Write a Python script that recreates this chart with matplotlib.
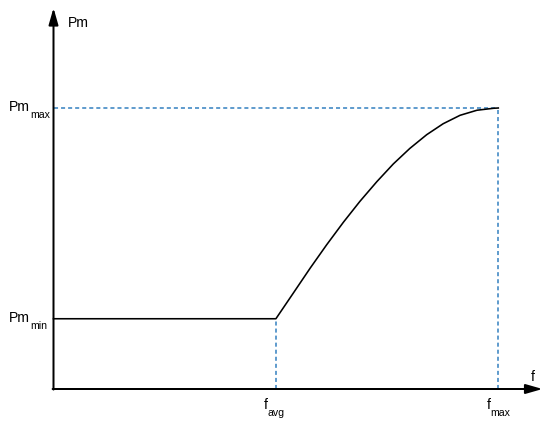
import matplotlib
matplotlib.use("Agg")
import matplotlib.pyplot as plt

plt.rcParams["font.family"] = ["Liberation Sans", "DejaVu Sans"]

# wartości charakterystyczne (znormalizowane)
f_avg = 0.5
f_max = 1.0
pm_min = 0.25
pm_max = 1.0

# krzywa Pm(f)
f_vals = [0.0, 0.5, 0.539, 0.577, 0.614, 0.652, 0.689, 0.727, 0.764,
          0.801, 0.839, 0.876, 0.914, 0.952, 0.989, 1.0]
pm_vals = [0.25, 0.25, 0.341, 0.430, 0.513, 0.594, 0.668, 0.738, 0.801,
           0.856, 0.905, 0.944, 0.974, 0.992, 0.999, 1.0]

# etykiety
x_label = "f"
y_label = "Pm"
y_ticks = [(pm_max, "Pm", "max"), (pm_min, "Pm", "min")]
x_ticks = [(f_avg, "f", "avg"), (f_max, "f", "max")]

BLUE = "#2f7dbf"


def main():
    # dpi 72 -> 1 pt = 1 px
    fig = plt.figure(figsize=(550 / 72, 426 / 72), dpi=72)
    ax = fig.add_axes([0, 0, 1, 1])
    ax.set_xlim(-53.5 / 444.8, (550 - 53.5) / 444.8)
    ax.set_ylim(-37 / 281, 389 / 281)
    ax.axis("off")

    # osie ze strzałkami
    arrow = dict(arrowstyle="-|>,head_length=1.4,head_width=0.4", lw=2,
                 color="black", shrinkA=0, shrinkB=0, mutation_scale=10)
    ax.annotate("", xy=(1.0995, 0), xytext=(-0.002, 0), arrowprops=arrow)
    ax.annotate("", xy=(0, 1.356), xytext=(0, -0.002), arrowprops=arrow)

    # linie pomocnicze
    dash = dict(color=BLUE, lw=1.5, dashes=(2.7, 2))
    ax.plot([0, f_max], [pm_max, pm_max], **dash)
    ax.plot([f_max, f_max], [0, pm_max], **dash)
    ax.plot([f_avg, f_avg], [0, pm_min], **dash)

    # charakterystyka
    ax.plot(f_vals, pm_vals, color="black", lw=1.6, solid_joinstyle="round")

    # opisy osi
    ax.annotate(y_label, xy=(0, 1.356), xytext=(14.5, -19), textcoords="offset points",
                ha="left", va="baseline", fontsize=14)
    ax.annotate(x_label, xy=(1.0995, 0), xytext=(-12, 8), textcoords="offset points",
                ha="left", va="baseline", fontsize=14)

    for val, main_txt, sub in y_ticks:
        ax.annotate(main_txt, xy=(0, val), xytext=(-23.5, -3), textcoords="offset points",
                    ha="right", va="baseline", fontsize=14)
        ax.annotate(sub, xy=(0, val), xytext=(-23.5, -10), textcoords="offset points",
                    ha="left", va="baseline", fontsize=10.5)

    for val, main_txt, sub in x_ticks:
        ax.annotate(main_txt, xy=(val, 0), xytext=(-8, -20), textcoords="offset points",
                    ha="right", va="baseline", fontsize=14)
        ax.annotate(sub, xy=(val, 0), xytext=(-8, -27), textcoords="offset points",
                    ha="left", va="baseline", fontsize=10.5)

    fig.savefig("out.png", dpi=72)
    plt.close(fig)


if __name__ == "__main__":
    main()
